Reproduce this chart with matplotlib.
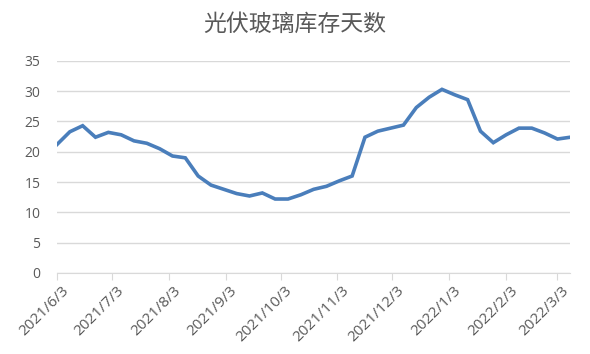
import matplotlib.pyplot as plt
import matplotlib.transforms as mtransforms
import pandas as pd

plt.rcParams['font.family'] = ['Open Sans', 'Noto Sans CJK SC', 'DejaVu Sans']

# weekly data, every Thursday from 2021/6/3
dates = pd.date_range("2021-06-03", periods=41, freq="7D")
days = [21.2, 23.3, 24.3, 22.4, 23.2, 22.8, 21.8, 21.4, 20.5, 19.3,
        19.0, 16.0, 14.5, 13.8, 13.1, 12.7, 13.2, 12.2, 12.2, 12.9,
        13.8, 14.3, 15.2, 16.0, 22.4, 23.4, 23.9, 24.4, 27.3, 29.0,
        30.3, 29.4, 28.6, 23.4, 21.5, 22.8, 23.9, 23.9, 23.1, 22.1,
        22.4]
tick_labels = ["2021/6/3", "2021/7/3", "2021/8/3", "2021/9/3", "2021/10/3",
               "2021/11/3", "2021/12/3", "2022/1/3", "2022/2/3", "2022/3/3"]
tick_dates = pd.to_datetime(tick_labels, format="%Y/%m/%d")

grey = '#595959'

fig = plt.figure(figsize=(5.9, 3.54), dpi=100)
ax = fig.add_axes([0.0966, 0.229, 0.87, 0.599])
ax.plot(dates, days, color='#4a7ebb', lw=2.6, solid_joinstyle='miter')

ax.set_ylim(0, 35)
ax.set_yticks(range(0, 36, 5))
ax.set_xlim(dates[0], dates[-1])
ax.set_xticks(tick_dates)
ax.set_xticklabels(tick_labels)
ax.grid(axis='y', color='#d9d9d9', lw=1)
ax.set_axisbelow(True)
for s in ['top', 'right', 'left']:
    ax.spines[s].set_visible(False)
ax.spines['bottom'].set_color('#d9d9d9')
ax.tick_params(axis='y', length=0, labelsize=10, labelcolor=grey, pad=12)
ax.tick_params(axis='x', length=5, color='#d9d9d9', labelsize=11, labelcolor=grey, pad=1)
shift = mtransforms.ScaledTranslation(4 / 100, -2 / 100, fig.dpi_scale_trans)
for lab in ax.get_xticklabels():
    lab.set_rotation(45)
    lab.set_ha('right')
    lab.set_rotation_mode('anchor')
    lab.set_transform(lab.get_transform() + shift)

fig.text(0.5, 0.932, "光伏玻璃库存天数", ha='center', va='center',
         fontsize=16.5, color=grey, family=['Noto Sans CJK SC'])

fig.savefig('out.png', dpi=100)
